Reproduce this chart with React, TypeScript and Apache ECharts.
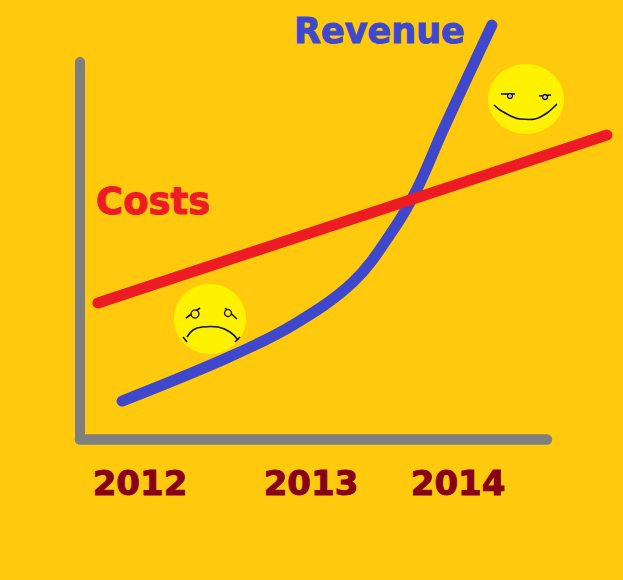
import React, { useEffect, useRef } from "react";
import * as echarts from "echarts";

const tickLabels = ["2012", "2013", "2014"];
const tickPositions = [2012, 2013, 2013.86];
const costsPoints = [
  [2011.754, 35.9],
  [2014.731, 80.2],
];
const revenuePoints = [
  [2011.895, 10.0],
  [2012.509, 21.4],
  [2012.895, 30.1],
  [2013.246, 41.4],
  [2013.48, 55.1],
  [2013.626, 66.5],
  [2013.772, 81.5],
  [2014.058, 109.2],
];

const GRAY = "#7F7F7F";
const BLUE = "#3F48CC";
const RED = "#ED1C24";
const DARK = "#880015";
const GOLD = "#FFC90E";
const YELLOW = "#FFF200";

const stroke = (points: number[][], smooth = 0, z = 20) => ({
  type: "polyline",
  z,
  shape: { points, smooth },
  style: { stroke: "#111", lineWidth: 1.6, fill: "none" },
});

const face = (cx: number, cy: number, rx: number, ry: number) => ({
  type: "ellipse",
  z: 5,
  shape: { cx, cy, rx, ry },
  style: { fill: YELLOW },
});

const pupil = (cx: number, cy: number, r: number, fill: string) => ({
  type: "circle",
  z: 21,
  shape: { cx, cy, r },
  style: { fill, stroke: "#111", lineWidth: 1.3 },
});

const word = (text: string, x: number, y: number, fill: string, size: number) => ({
  type: "text",
  z: 30,
  x,
  y,
  style: {
    text,
    fill,
    stroke: fill,
    lineWidth: 1,
    font: `bold ${size}px 'DejaVu Sans'`,
    verticalAlign: "middle",
  },
});

const axisLine = (width: number) => ({
  show: true,
  onZero: false,
  lineStyle: { color: GRAY, width, cap: "round" },
});

const xMin = 2011.649;
const yAxisBase = {
  type: "value",
  min: 0,
  splitLine: { show: false },
  axisTick: { show: false },
  axisLabel: { show: false },
};

export default function App() {
  const ref = useRef<HTMLDivElement>(null);
  useEffect(() => {
    document.body.style.margin = "0";
    const chart = echarts.init(ref.current!, null, { renderer: "svg" });
    chart.setOption({
      animation: false,
      backgroundColor: GOLD,
      grid: [
        { left: 80, top: 62, width: 467, height: 377 },
        { left: 80, top: 60, width: 543, height: 379 },
      ],
      xAxis: [
        {
          type: "value",
          gridIndex: 0,
          min: xMin,
          max: 2014.38,
          splitLine: { show: false },
          axisTick: { show: false },
          axisLine: axisLine(10.5),
          axisLabel: {
            customValues: tickPositions,
            formatter: (v: number) => tickLabels[tickPositions.indexOf(v)] ?? "",
            color: DARK,
            fontFamily: "DejaVu Sans",
            fontWeight: "bold",
            fontSize: 34,
            textBorderColor: DARK,
            textBorderWidth: 1,
            margin: 27,
          },
        },
        {
          type: "value",
          gridIndex: 1,
          min: xMin,
          max: 2014.825,
          show: false,
        },
      ],
      yAxis: [
        { ...yAxisBase, gridIndex: 0, max: 99.47, axisLine: axisLine(10) },
        { ...yAxisBase, gridIndex: 1, max: 100, show: false },
      ],
      series: [
        {
          name: "Revenue",
          type: "line",
          xAxisIndex: 1,
          yAxisIndex: 1,
          data: revenuePoints,
          smooth: 0.35,
          clip: false,
          showSymbol: false,
          z: 10,
          lineStyle: { color: BLUE, width: 11, cap: "round" },
        },
        {
          name: "Costs",
          type: "line",
          xAxisIndex: 1,
          yAxisIndex: 1,
          data: costsPoints,
          clip: false,
          showSymbol: false,
          z: 11,
          lineStyle: { color: RED, width: 11, cap: "round" },
        },
      ],
      graphic: [
        word("Revenue", 294, 31, BLUE, 35),
        word("Costs", 96, 201, RED, 37),
        face(210, 319, 36, 35),
        stroke([[186, 318], [200, 308]]),
        pupil(195, 314, 4, YELLOW),
        stroke([[225, 308], [237, 319]]),
        pupil(228, 313, 3.5, YELLOW),
        stroke([[187, 337], [193, 330], [202, 327], [218, 327], [230, 332], [238, 340]], 0.4),
        stroke([[183, 337], [187, 342]]),
        stroke([[235, 342], [240, 337]]),
        face(526, 99, 38, 35),
        stroke([[501, 94], [515, 94]]),
        pupil(510, 96, 2.5, "#C8C8F0"),
        stroke([[539, 96], [551, 95]]),
        pupil(545, 97, 2.5, "#C8C8F0"),
        stroke([[494, 105], [500, 110], [513, 117], [520, 119], [535, 119], [547, 113], [557, 104]], 0.3),
      ],
    });
    return () => chart.dispose();
  }, []);
  return <div ref={ref} style={{ width: 623, height: 580 }} />;
}
